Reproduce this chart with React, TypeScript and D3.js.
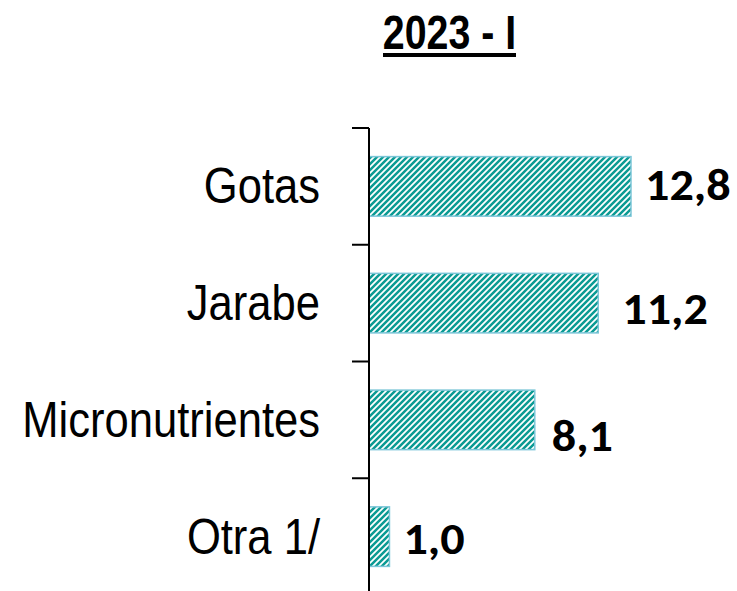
import React from "react";
import * as d3 from "d3";

const title = "2023 - I";
const categories = ["Gotas", "Jarabe", "Micronutrientes", "Otra 1/"];
const values = [12.8, 11.2, 8.1, 1.0];
const valueLabels = ["12,8", "11,2", "8,1", "1,0"];

// layout nudges for value labels (as placed in the original)
const labelDx = [14, 24, 17, 14];
const labelDy = [14, 20.5, 31, 17.5];

const W = 737;
const H = 591;
const NARROW = 0.82;
const CAT_NARROW = 0.88;
const VAL_WIDE = 1.07;
const sansFont = "'Liberation Sans', Arial, sans-serif";

export default function App() {
  const axisX = 369;
  const x = d3.scaleLinear().domain([0, 14]).range([axisX, axisX + 14 * (262 / 12.8)]);
  const y = d3
    .scaleBand<string>()
    .domain(categories)
    .range([128, 128 + 4 * 116.75])
    .paddingInner(0.49)
    .paddingOuter(0.245);
  const step = y.step();
  const tickYs = d3.range(categories.length + 1).map((i) => 128 + i * step);

  return (
    <svg
      width={W}
      height={H}
      style={{ position: "absolute", left: 0, top: 0, background: "#fff" }}
    >
      <defs>
        <pattern id="hatch" patternUnits="userSpaceOnUse" width={6} height={6}>
          <rect width={6} height={6} fill="#ffffff" />
          <path
            d="M-1,1 L1,-1 M0,6 L6,0 M5,7 L7,5"
            stroke="#0a9a93"
            strokeWidth={2.5}
          />
        </pattern>
      </defs>
      <g transform={`translate(449.5,49) scale(${NARROW},1)`}>
        <text
          x={0}
          y={0}
          textAnchor="middle"
          fontFamily={sansFont}
          fontWeight="bold"
          fontSize={48}
          fill="#000"
        >
          {title}
        </text>
      </g>
      <rect x={383} y={53} width={133} height={4} fill="#000" />

      {categories.map((c, i) => {
        const by = y(c)!;
        const bh = y.bandwidth();
        const x1 = x(values[i]);
        const cy = by + bh / 2;
        return (
          <g key={c}>
            <rect
              x={axisX}
              y={by}
              width={x1 - axisX}
              height={bh}
              fill="url(#hatch)"
              stroke="#7cc6d8"
              strokeWidth={1.5}
            />
            <g transform={`translate(320,${cy + 17}) scale(${CAT_NARROW},1)`}>
              <text
                x={0}
                y={0}
                textAnchor="end"
                fontFamily={sansFont}
                fontSize={49.5}
                fill="#000"
              >
                {c}
              </text>
            </g>
            <g transform={`translate(${x1 + labelDx[i]},${cy + labelDy[i]}) scale(${VAL_WIDE},1)`}>
              <text
                x={0}
                y={0}
                fontFamily="Carlito, Lato, 'Open Sans', sans-serif"
                fontWeight="bold"
                fontSize={45}
                fill="#000"
              >
                {valueLabels[i]}
              </text>
            </g>
          </g>
        );
      })}

      <line x1={axisX} x2={axisX} y1={128} y2={H + 10} stroke="#000" strokeWidth={2} />
      {tickYs.map((ty, i) => (
        <line key={i} x1={352} x2={axisX} y1={ty} y2={ty} stroke="#000" strokeWidth={2} />
      ))}
    </svg>
  );
}
